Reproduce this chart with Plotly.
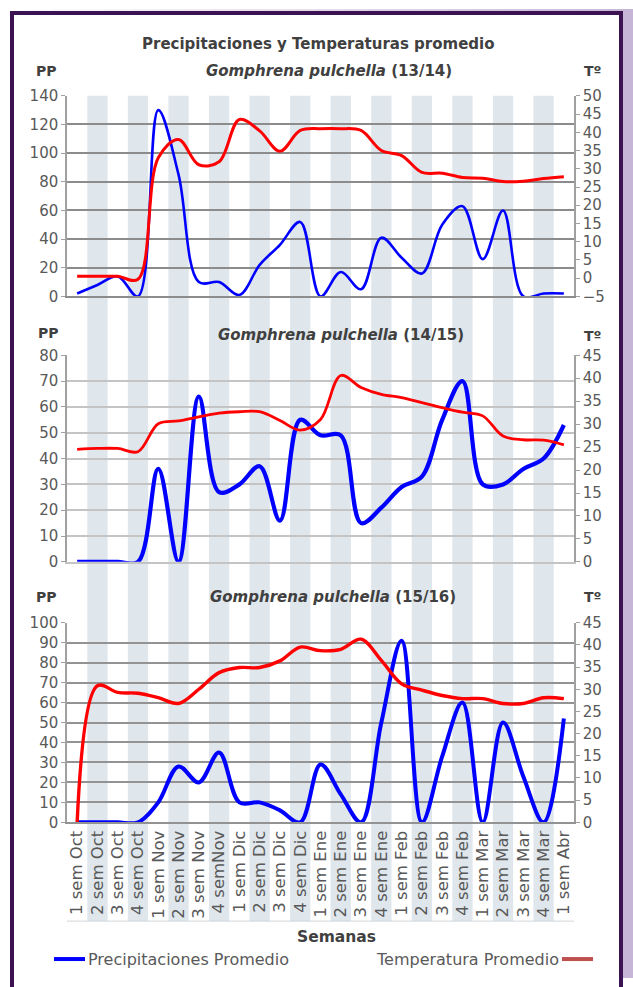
import plotly.graph_objects as go

W, H = 633, 987

cats = ["1 sem Oct", "2 sem Oct", "3 sem Oct", "4 sem Oct",
        "1 sem Nov", "2 sem Nov", "3 sem Nov", "4 semNov",
        "1 sem Dic", "2 sem Dic", "3 sem Dic", "4 sem Dic",
        "1 sem Ene", "2 sem Ene", "3 sem Ene", "4 sem Ene",
        "1 sem Feb", "2 sem Feb", "3 sem Feb", "4 sem Feb",
        "1 sem Mar", "2 sem Mar", "3 sem Mar", "4 sem Mar",
        "1 sem Abr"]

pp_1314 = [2, 8, 14, 0, 130, 85, 10, 10, 1, 22, 36, 52, 0, 17, 5, 41, 27, 16, 50, 63, 26, 60, 0, 2, 2]
t_1314 = [0.5, 0.5, 0.5, -0.3, 33, 38, 31.1, 31.9, 43.5, 40.4, 34.8, 40.5, 41, 41, 40.5, 35, 33.6, 29, 28.8, 27.6, 27.4, 26.5, 26.6, 27.3, 27.8]

pp_1415 = [0, 0, 0, 0, 36, 0, 64, 27, 30, 37, 16, 55, 49, 49, 15, 21, 29, 33, 55, 70, 30, 30, 36, 40, 53]
t_1415 = [24.5, 24.7, 24.7, 24, 30.1, 30.7, 31.6, 32.4, 32.7, 32.7, 30.8, 28.7, 31, 40.6, 38, 36.5, 35.8, 34.7, 33.6, 32.6, 31.8, 27.4, 26.6, 26.5, 25.5]

pp_1516 = [0, 0, 0, 0, 10, 28, 20, 35, 10, 10, 6, 0, 29, 14, 0, 50, 91, 0, 33, 60, 0, 50, 23, 0, 52]
t_1516 = [0, 30.8, 29.3, 29.1, 28.1, 26.8, 30, 33.75, 34.9, 34.9, 36.4, 39.5, 38.7, 39, 41.3, 36.5, 31.2, 29.8, 28.6, 27.9, 27.9, 26.8, 26.8, 28.1, 27.9]

titles = ["(13/14)", "(14/15)", "(15/16)"]
main_title = "Precipitaciones y Temperaturas promedio"
legend_pp = "Precipitaciones Promedio"
legend_t = "Temperatura Promedio"
x_title = "Semanas"

FONT = "DejaVu Sans"
TXT = "#404040"
TICK = "#595959"
BLUE = "#0000ff"
RED = "#ff0000"
STRIPE = "#dfe6ec"
TICKSIZE = 15

# the page is photographed with an 8px top offset and the figure fitted into 971px;
# vertical layout positions are expressed in target picture pixels and mapped here
Y_OFF, Y_SPAN = 8, 971


def px(x):
    return x / W


def py(y):
    return min(1.0, 1 - (y - Y_OFF) / Y_SPAN)


PLOT_L, PLOT_R = 67, 574
panels = [  # (top, bottom) in pixels
    (95, 296),
    (355, 562),
    (623, 823),
]
left_ranges = [(0, 140, 20), (0, 80, 10), (0, 100, 10)]
right_ranges = [(-5, 50, 5), (0, 45, 5), (0, 45, 5)]
grid_colors = ["#8c8c8c", "#c4c4c4", "#939393"]
grid_widths = [2, 1.5, 2]
blue_w = [2.6, 4.2, 4]
red_w = [3, 2.8, 3.4]

series = [(pp_1314, t_1314), (pp_1415, t_1415), (pp_1516, t_1516)]

fig = go.Figure()

for k, (pp, tt) in enumerate(series):
    xa = "x" if k == 0 else f"x{k + 1}"
    yl = "y" if k == 0 else f"y{2 * k + 1}"
    yr = f"y{2 * k + 2}"
    fig.add_trace(go.Scatter(x=cats, y=pp, mode="lines", xaxis=xa, yaxis=yl,
                             line=dict(color=BLUE, width=blue_w[k], shape="spline", smoothing=1.0),
                             name=legend_pp, showlegend=False))
    fig.add_trace(go.Scatter(x=cats, y=tt, mode="lines", xaxis=xa, yaxis=yr,
                             line=dict(color=RED, width=red_w[k], shape="spline", smoothing=1.0),
                             name=legend_t, showlegend=False))

layout = dict(
    width=W, height=H,
    margin=dict(l=0, r=0, t=0, b=0),
    paper_bgcolor="#ffffff",
    plot_bgcolor="rgba(0,0,0,0)",
    font=dict(family=FONT, color=TICK, size=TICKSIZE),
    showlegend=False,
)

for k in range(3):
    top, bot = panels[k]
    xkey = "xaxis" if k == 0 else f"xaxis{k + 1}"
    ylkey = "yaxis" if k == 0 else f"yaxis{2 * k + 1}"
    yrkey = f"yaxis{2 * k + 2}"
    ylname = "y" if k == 0 else f"y{2 * k + 1}"
    xname = "x" if k == 0 else f"x{k + 1}"
    lo, hi, dt = left_ranges[k]
    rlo, rhi, rdt = right_ranges[k]
    layout[xkey] = dict(
        domain=[px(PLOT_L), px(PLOT_R)], anchor=ylname, type="category",
        range=[-0.5, len(cats) - 0.5], showgrid=False, zeroline=False,
        showline=True, linecolor=grid_colors[k], linewidth=1.5,
        showticklabels=(k == 2), ticks="",
        tickangle=-90, tickfont=dict(family=FONT, size=16.5, color=TICK),
    )
    layout[ylkey] = dict(
        domain=[py(bot), py(top)], anchor=xname, range=[lo, hi], dtick=dt,
        tick0=lo, showgrid=True, gridcolor=grid_colors[k], gridwidth=grid_widths[k],
        zeroline=False, showline=True, linecolor="#a0a0a0", linewidth=1.5,
        ticks="outside", ticklen=4, tickcolor="#a0a0a0",
        tickfont=dict(family=FONT, size=TICKSIZE, color=TICK),
    )
    layout[yrkey] = dict(
        overlaying=ylname, side="right", anchor=xname, range=[rlo, rhi], dtick=rdt,
        tick0=rlo, showgrid=False, zeroline=False, showline=True,
        linecolor="#a0a0a0", linewidth=1.5, ticks="outside", ticklen=4,
        tickcolor="#a0a0a0", tickfont=dict(family=FONT, size=TICKSIZE, color=TICK),
    )

fig.update_layout(**layout)

shapes = []
# outside decoration (gradient band on top, lavender band on right)
steps = 24
for s in range(steps):
    f = s / (steps - 1)
    r = int(255 + (200 - 255) * f)
    g = int(255 + (184 - 255) * f)
    b = int(255 + (216 - 255) * f)
    shapes.append(dict(type="rect", xref="paper", yref="paper",
                       x0=px(W * s / steps), x1=px(W * (s + 1) / steps + 1),
                       y0=py(11), y1=1, fillcolor=f"rgb({r},{g},{b})",
                       line=dict(width=0), layer="below"))
shapes.append(dict(type="rect", xref="paper", yref="paper", x0=px(621), x1=1,
                   y0=0, y1=1, fillcolor="#c6b5d6", line=dict(width=0), layer="below"))
# frame
shapes.append(dict(type="rect", xref="paper", yref="paper", x0=px(12), x1=px(621),
                   y0=-0.05, y1=py(12), fillcolor="#ffffff",
                   line=dict(color="#3d1253", width=4), layer="below"))
# column stripes
for i in range(len(cats)):
    if i % 2 == 1:
        shapes.append(dict(type="rect", xref="x", yref="paper", x0=i - 0.5, x1=i + 0.5,
                           y0=py(922), y1=py(95), fillcolor=STRIPE,
                           line=dict(width=0), layer="below"))
# label box bottom line
shapes.append(dict(type="line", xref="paper", yref="paper", x0=px(PLOT_L), x1=px(PLOT_R),
                   y0=py(922), y1=py(922), line=dict(color="#d0d6dc", width=1), layer="below"))
# legend swatches
shapes.append(dict(type="line", xref="paper", yref="paper", x0=px(54), x1=px(85),
                   y0=py(960), y1=py(960), line=dict(color=BLUE, width=4)))
shapes.append(dict(type="line", xref="paper", yref="paper", x0=px(562), x1=px(593),
                   y0=py(960), y1=py(960), line=dict(color="#c0504d", width=4)))

annotations = []


def ann(text, x, y, size=16, color=TXT, xanchor="center"):
    annotations.append(dict(text=text, x=px(x), y=py(y), xref="paper", yref="paper",
                            showarrow=False, xanchor=xanchor, yanchor="middle",
                            font=dict(family=FONT, size=size, color=color)))


ann(f"<b>{main_title}</b>", 318, 43, 15)
sub_pos = [(329, 70), (341, 335), (333, 597)]
pp_pos = [(47, 70), (48, 333), (47, 597)]
t_pos = [(593, 70), (593, 336), (593, 597)]
for k in range(3):
    ann(f"<b><i>Gomphrena pulchella</i> {titles[k]}</b>", sub_pos[k][0], sub_pos[k][1], 15)
    ann("<b>PP</b>", pp_pos[k][0], pp_pos[k][1], 14)
    ann("<b>Tº</b>", t_pos[k][0], t_pos[k][1], 14)
ann(f"<b>{x_title}</b>", 336, 938, 15.5)
ann(legend_pp, 86, 960, 16, TICK, "left")
ann(legend_t, 561, 960, 16, TICK, "right")

fig.update_layout(shapes=shapes, annotations=annotations)

fig.write_html(
    "out.html",
    config={"displayModeBar": False},
    post_script=(
        "document.documentElement.style.margin='0';"
        "document.body.style.margin='0';"
        "document.body.style.padding='0';"
        "document.documentElement.style.overflow='hidden';"
        "document.body.style.overflow='hidden';"
        "var d=document.getElementById('{plot_id}');"
        "d.style.position='fixed';d.style.top='0px';d.style.left='0px';"
    ),
)
